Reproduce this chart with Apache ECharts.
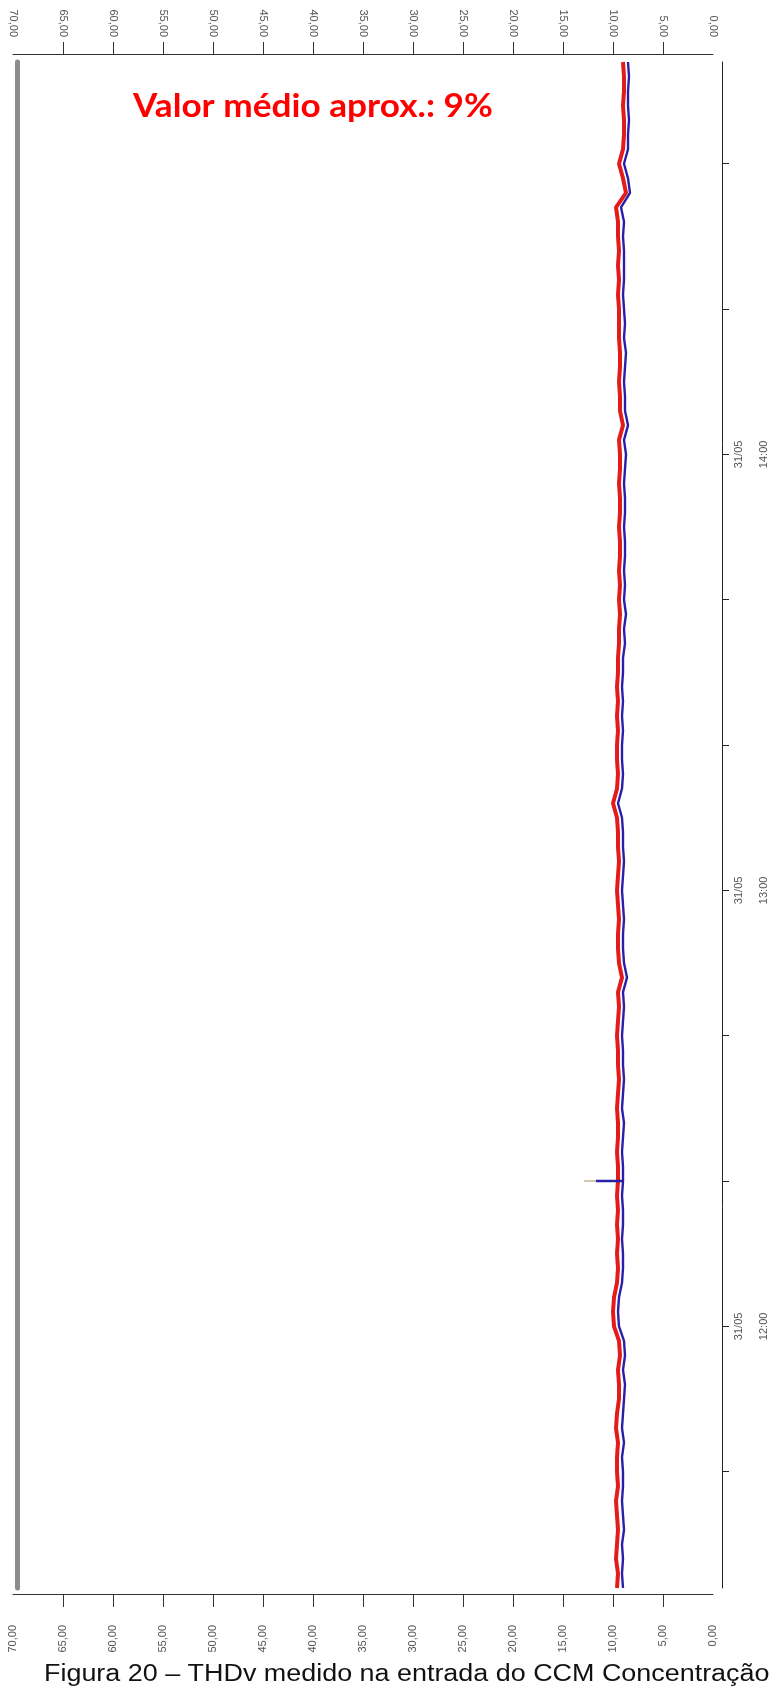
<!DOCTYPE html>
<html>
<head>
<meta charset="utf-8">
<script src="https://cdn.jsdelivr.net/npm/echarts@6/dist/echarts.min.js"></script>
<style>
html,body{margin:0;padding:0;background:#fff;}
#chart{width:776px;height:1695px;}
</style>
</head>
<body>
<div id="chart"></div>
<script>
// ---- data ----
const sampleStart = '11:24';      // first sample
const sampleStepMin = 2;          // minutes between samples
const axisStart = '11:24';
const axisEnd = '14:54';
const timeTicks = ['11:40','12:00','12:20','12:40','13:00','13:20','13:40','14:00','14:20','14:40'];
const timeLabels = ['12:00','13:00','14:00'];
const dateLabel = '31/05';
const valueTicks = [5,10,15,20,25,30,35,40,45,50,55,60,65];

// THDv red phase (%)
const redSeries = [
  9.6, 9.5, 9.7, 9.6, 9.5, 9.6, 9.7, 9.5, 9.6, 9.6, 9.5, 9.7, 9.6,
  9.4, 9.4, 9.5, 9.3, 9.4,
  9.9, 10.0, 9.9,
  9.6, 9.5, 9.6, 9.5, 9.6, 9.5, 9.6,
  9.5,
  9.5, 9.6, 9.5, 9.5, 9.6, 9.5, 9.4, 9.5, 9.5, 9.6, 9.5, 9.4, 9.5,
  9.1,
  9.4, 9.5, 9.5, 9.4, 9.5, 9.6, 9.5, 9.4, 9.5, 9.5, 9.6,
  10.0,
  9.6, 9.5, 9.6, 9.6, 9.5, 9.6, 9.5, 9.6, 9.5, 9.5,
  9.4, 9.4, 9.3, 9.4,
  9.3, 9.4, 9.3, 9.3, 9.4, 9.3, 9.3, 9.4, 9.3, 9.3, 9.4,
  9.0,
  9.3, 9.3, 9.4, 9.3, 9.3, 9.4, 9.4,
  9.4, 9.5, 9.4, 9.5, 9.4, 9.5, 9.5,
  9.7, 8.7, 9.0, 9.4,
  9.0, 8.9, 8.9, 9.0, 8.9, 8.9, 9.0
];
// THDv blue phase (%)
const blueSeries = [
  9.0, 9.1, 9.0, 9.1, 8.9, 9.0, 9.1, 9.0, 9.0, 9.1, 8.9, 9.1, 9.0,
  8.9, 8.8, 9.0, 8.8, 8.9,
  9.4, 9.5, 9.4,
  9.1, 9.0, 9.0, 9.1, 9.0, 9.0, 9.1,
  9.0,
  9.0, 9.1, 9.0, 8.9, 9.1, 9.0, 8.9, 9.0, 9.0, 9.1, 9.0, 8.9, 9.0,
  8.6,
  8.9, 9.0, 9.0, 8.9, 9.0, 9.1, 9.0, 8.9, 9.0, 9.0, 9.1,
  9.5,
  9.1, 9.0, 9.1, 9.1, 9.0, 9.1, 9.0, 9.1, 9.0, 9.0,
  8.8, 8.9, 8.7, 8.9,
  8.8, 8.9, 8.8, 8.8, 8.9, 8.8, 8.8, 8.9, 8.8, 8.7, 8.9,
  8.5,
  8.8, 8.8, 8.9, 8.8, 8.7, 8.9, 8.8,
  8.9, 9.0, 8.9, 8.9, 8.9, 9.0, 8.9,
  9.2, 8.3, 8.5, 8.9,
  8.5, 8.5, 8.4, 8.5, 8.5, 8.4, 8.5
];
// short transient at 12:20
const spikeTime = '12:20';
const spikeBase = 9.2;
const blueSpikePeak = 11.7;
const tanSpikePeak = 12.9;

const annotation = 'Valor médio aprox.: 9%';
const caption = 'Figura 20 – THDv medido na entrada do CCM Concentração';

// ---- helpers (time in minutes of the day) ----
function ts(hm){ const p = hm.split(':').map(Number); return p[0]*60 + p[1]; }
const t0 = ts(sampleStart);
const sampleTimes = redSeries.map((_, i) => t0 + i*sampleStepMin);
const spikeTs = ts(spikeTime);

const redData = redSeries.map((v,i) => [v, sampleTimes[i]]);
const blueData = [];
blueSeries.forEach((v,i) => {
  blueData.push([v, sampleTimes[i]]);
  if (sampleTimes[i] === spikeTs) { blueData.push([blueSpikePeak, spikeTs]); blueData.push([v, spikeTs]); }
});
const tanData = [[spikeBase, spikeTs],[tanSpikePeak, spikeTs]];

const fmtVal = v => v.toFixed(2).replace('.', ',');
const pad = n => (n<10?'0':'')+n;
const fmtTime = v => { const m = Math.round(v); return dateLabel + '\n' + pad(Math.floor(m/60)) + ':' + pad(m%60); };

function valueAxis(pos, offset, tickLen, margin){
  return {
    type:'value', position:pos, min:0, max:70, interval:5, inverse:true, offset:offset,
    axisLine:{show:true, onZero:false, lineStyle:{color:'#333', width:1}},
    axisTick:{show:true, length:tickLen, customValues:valueTicks, lineStyle:{color:'#333', width:1}},
    axisLabel:{rotate:90, margin:margin, fontSize:11, color:'#555', fontFamily:'Liberation Sans', formatter:fmtVal},
    splitLine:{show:false}
  };
}

const chart = echarts.init(document.getElementById('chart'), null, {renderer:'canvas'});
chart.setOption({
  animation:false,
  backgroundColor:'#fff',
  grid:{left:13, right:60, top:62, bottom:107, containLabel:false},
  xAxis:[ valueAxis('top', 8, 12, 17), valueAxis('bottom', 6, 13, 31) ],
  yAxis:[
    {
      type:'value', position:'right', min:ts(axisStart), max:ts(axisEnd), offset:9,
      axisLine:{show:true, onZero:false, lineStyle:{color:'#222', width:1}},
      axisTick:{show:true, length:7, customValues:timeTicks.map(ts), lineStyle:{color:'#222'}},
      axisLabel:{customValues:timeLabels.map(ts), rotate:90, margin:4, fontSize:11, lineHeight:25,
                 color:'#555', fontFamily:'Liberation Sans', formatter:fmtTime},
      splitLine:{show:false}
    },
    {
      type:'value', position:'left', min:ts(axisStart), max:ts(axisEnd), offset:-4.5,
      axisLine:{show:true, onZero:false, lineStyle:{color:'#8c8c8c', width:5}},
      axisTick:{show:false}, axisLabel:{show:false}, splitLine:{show:false}
    }
  ],
  series:[
    {type:'line', name:'tan', xAxisIndex:0, yAxisIndex:0, data:tanData, showSymbol:false,
     lineStyle:{color:'#c4b494', width:1.5}},
    {type:'line', name:'red', xAxisIndex:0, yAxisIndex:0, data:redData, showSymbol:false,
     lineStyle:{color:'#e21b1b', width:4}},
    {type:'line', name:'blue', xAxisIndex:0, yAxisIndex:0, data:blueData, showSymbol:false,
     lineStyle:{color:'#2a1fa8', width:2.4}}
  ],
  graphic:[
    {type:'text', x:133, y:91, scaleX:1.1, style:{text:annotation, font:'bold 32px Lato', fill:'#ff0000'}},
    {type:'text', x:44, y:1663, scaleX:1.17, style:{text:caption, font:'23px "Liberation Sans"', fill:'#111'}}
  ]
});
</script>
</body>
</html>
